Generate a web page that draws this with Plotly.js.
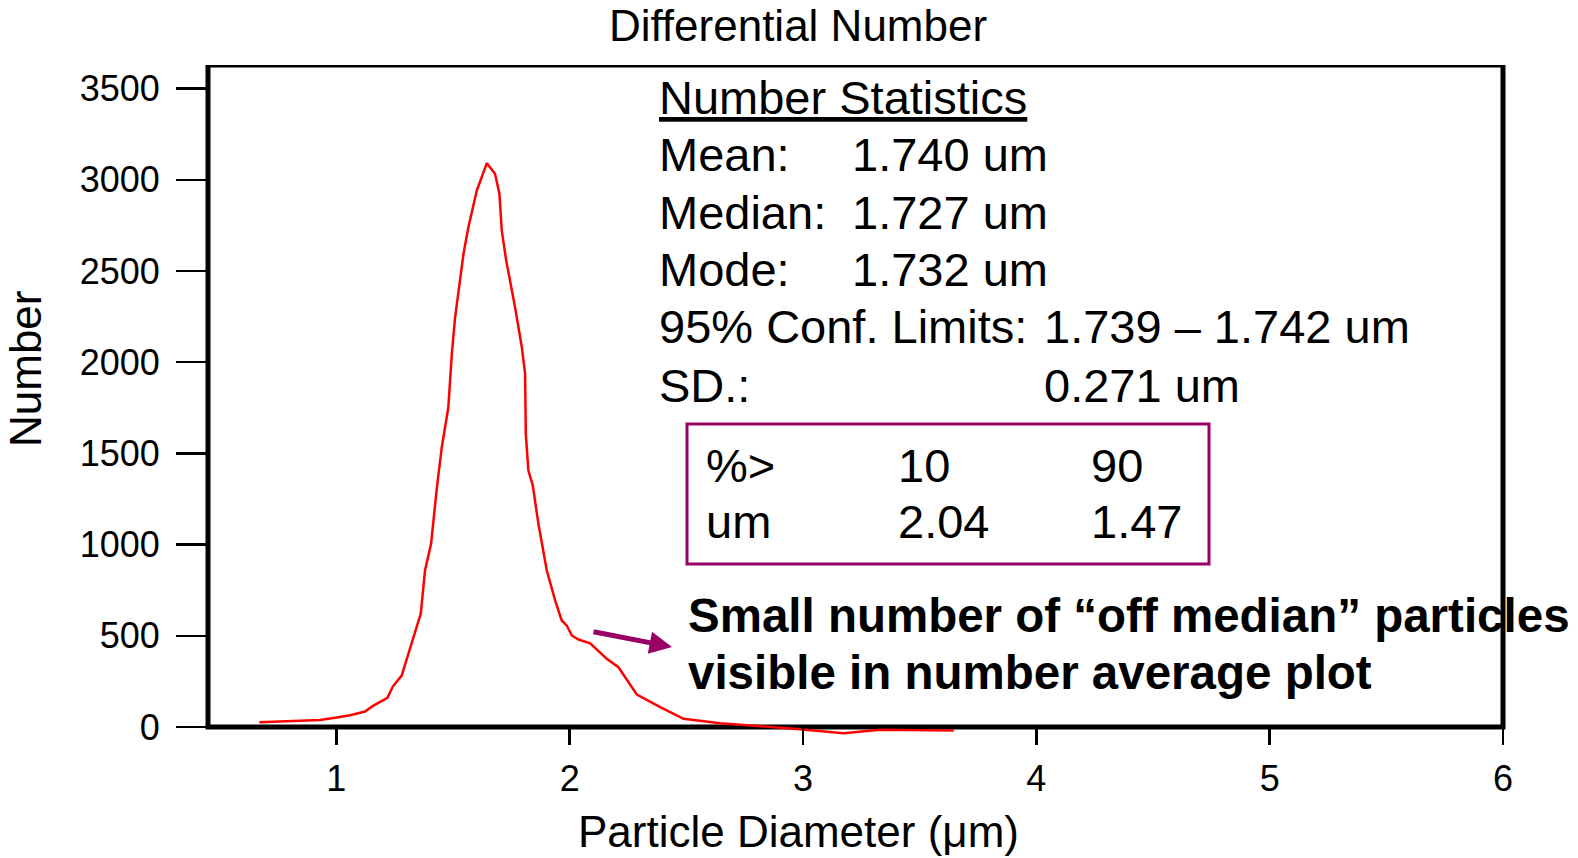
<!DOCTYPE html>
<html>
<head>
<meta charset="utf-8">
<script src="https://cdn.plot.ly/plotly-3.0.1.min.js"></script>
<style>
html, body { margin: 0; padding: 0; background: #ffffff; }
#chart { width: 1578px; height: 858px; }
</style>
</head>
<body>
<div id="chart"></div>
<script>
// ---- data ----
const diameterUm = [0.670, 0.844, 0.930, 1.002, 1.059, 1.123, 1.159, 1.219, 1.242, 1.280,
  1.302, 1.330, 1.362, 1.380, 1.406, 1.431, 1.452, 1.480, 1.495, 1.509,
  1.527, 1.545, 1.566, 1.602, 1.645, 1.680, 1.699, 1.709, 1.728, 1.766,
  1.795, 1.809, 1.812, 1.823, 1.842, 1.866, 1.902, 1.938, 1.966, 1.988,
  2.009, 2.038, 2.088, 2.159, 2.209, 2.288, 2.388, 2.488, 2.645, 2.788,
  2.974, 3.174, 3.331, 3.646];
const numberCounts = [26, 32, 39, 52, 65, 85, 118, 160, 222, 282,
  374, 492, 622, 858, 1004, 1314, 1534, 1753, 2046, 2246,
  2429, 2594, 2740, 2941, 3091, 3033, 2923, 2722, 2557, 2301,
  2082, 1936, 1607, 1406, 1324, 1114, 858, 693, 584, 556,
  502, 480, 459, 374, 328, 178, 109, 45, 21, 7,
  -10, -34, -15, -19];
const xTickVals = [1, 2, 3, 4, 5, 6];
const yTickVals = [0, 500, 1000, 1500, 2000, 2500, 3000, 3500];
const chartTitle = 'Differential Number';
const xTitle = 'Particle Diameter (\u03bcm)';
const yTitle = 'Number';
const statsHeading = 'Number Statistics';
const statLabels = ['Mean:', 'Median:', 'Mode:', '95% Conf. Limits:', 'SD.:'];
const statValues = ['1.740 um', '1.727 um', '1.732 um', '1.739 \u2013 1.742 um', '0.271 um'];
const pctHeader = ['%>', '10', '90'];
const pctValues = ['um', '2.04', '1.47'];
const noteLines = ['Small number of \u201coff median\u201d particles', 'visible in number average plot'];

// ---- layout geometry (pixels) ----
const W = 1578, H = 858;
const M = { l: 208, r: 75, t: 65, b: 120 };
const PW = W - M.l - M.r, PH = H - M.t - M.b;
const Y_MIN = -60, Y_MAX = 3629;
const X_MIN = 0.45, X_MAX = 6.0;
const px = x => (x - M.l) / PW;
const py = y => (H - M.b - y) / PH;
const FONT = 'Liberation Sans, Arial, Helvetica, sans-serif';
const PURPLE = '#990066';
const PAD = 3; // annotation inner padding compensation

const annotations = [];
function addText(text, x, y, opts) {
  annotations.push(Object.assign({
    text: text, xref: 'paper', yref: 'paper', x: px(x - PAD), y: py(y),
    xanchor: 'left', yanchor: 'middle', showarrow: false,
    font: { family: FONT, size: 47, color: '#000000' }
  }, opts || {}));
}

addText('<u>' + statsHeading + '</u>', 660, 97);
const statRowY = [154, 212, 269, 327, 385];
const statValX = [853, 853, 853, 1045, 1045];
statLabels.forEach((t, i) => addText(t, 660, statRowY[i]));
statValues.forEach((t, i) => addText(t, statValX[i], statRowY[i]));

const boxColX = [707, 899, 1092];
pctHeader.forEach((t, i) => addText(t, boxColX[i], 465));
pctValues.forEach((t, i) => addText(t, boxColX[i], 521));

const noteY = [615, 672];
noteLines.forEach((t, i) => addText('<b>' + t + '</b>', 689, noteY[i],
  { font: { family: FONT, size: 47.5, color: '#000000' } }));

// axis titles
annotations.push({
  text: xTitle, xref: 'paper', yref: 'paper', x: px(798), y: py(831),
  xanchor: 'center', yanchor: 'middle', showarrow: false,
  font: { family: FONT, size: 44, color: '#000000' }
});
annotations.push({
  text: yTitle, xref: 'paper', yref: 'paper', x: px(26), y: py(369),
  xanchor: 'center', yanchor: 'middle', showarrow: false, textangle: -90,
  font: { family: FONT, size: 44, color: '#000000' }
});

// arrow
annotations.push({
  text: '', xref: 'paper', yref: 'paper', x: px(672), y: py(647),
  showarrow: true, axref: 'pixel', ayref: 'pixel', ax: 592 - 672, ay: 631.5 - 647,
  arrowhead: 2, arrowsize: 0.9, arrowwidth: 5, arrowcolor: PURPLE, standoff: 0, startstandoff: 0
});

const trace = {
  type: 'scatter', mode: 'lines',
  x: diameterUm, y: numberCounts,
  line: { color: '#ff0000', width: 2.5 },
  hoverinfo: 'skip'
};

const layout = {
  width: W, height: H,
  margin: M,
  paper_bgcolor: '#ffffff', plot_bgcolor: '#ffffff',
  showlegend: false,
  font: { family: FONT, color: '#000000' },
  title: {
    text: chartTitle, font: { family: FONT, size: 44, color: '#000000' },
    xref: 'container', x: 798 / W, xanchor: 'center',
    yref: 'container', y: 1 - 25.5 / H, yanchor: 'middle'
  },
  xaxis: {
    range: [X_MIN, X_MAX], tickmode: 'array', tickvals: xTickVals,
    ticktext: xTickVals.map(String),
    anchor: 'free', position: (0 - Y_MIN) / (Y_MAX - Y_MIN),
    showline: false, showgrid: false, zeroline: false,
    ticks: 'outside', ticklen: 17, tickwidth: 2.5, tickcolor: '#000000',
    tickfont: { family: FONT, size: 36, color: '#000000' },
    ticklabelstandoff: 3
  },
  yaxis: {
    range: [Y_MIN, Y_MAX], tickmode: 'array', tickvals: yTickVals,
    ticktext: yTickVals.map(String),
    showline: false, showgrid: false, zeroline: false,
    ticks: 'outside', ticklen: 31, tickwidth: 2.5, tickcolor: '#000000',
    tickfont: { family: FONT, size: 36, color: '#000000' },
    ticklabelstandoff: 9
  },
  shapes: [
    { type: 'rect', xref: 'paper', yref: 'y', x0: 0, x1: 1, y0: 0, y1: Y_MAX,
      line: { color: '#000000', width: 5 }, fillcolor: 'rgba(0,0,0,0)', layer: 'below' },
    { type: 'rect', xref: 'paper', yref: 'paper', x0: px(687), x1: px(1209), y0: py(564), y1: py(424),
      line: { color: PURPLE, width: 3 }, fillcolor: 'rgba(0,0,0,0)' }
  ],
  annotations: annotations
};

Plotly.newPlot('chart', [trace], layout, { displayModeBar: false, staticPlot: true });
</script>
</body>
</html>
